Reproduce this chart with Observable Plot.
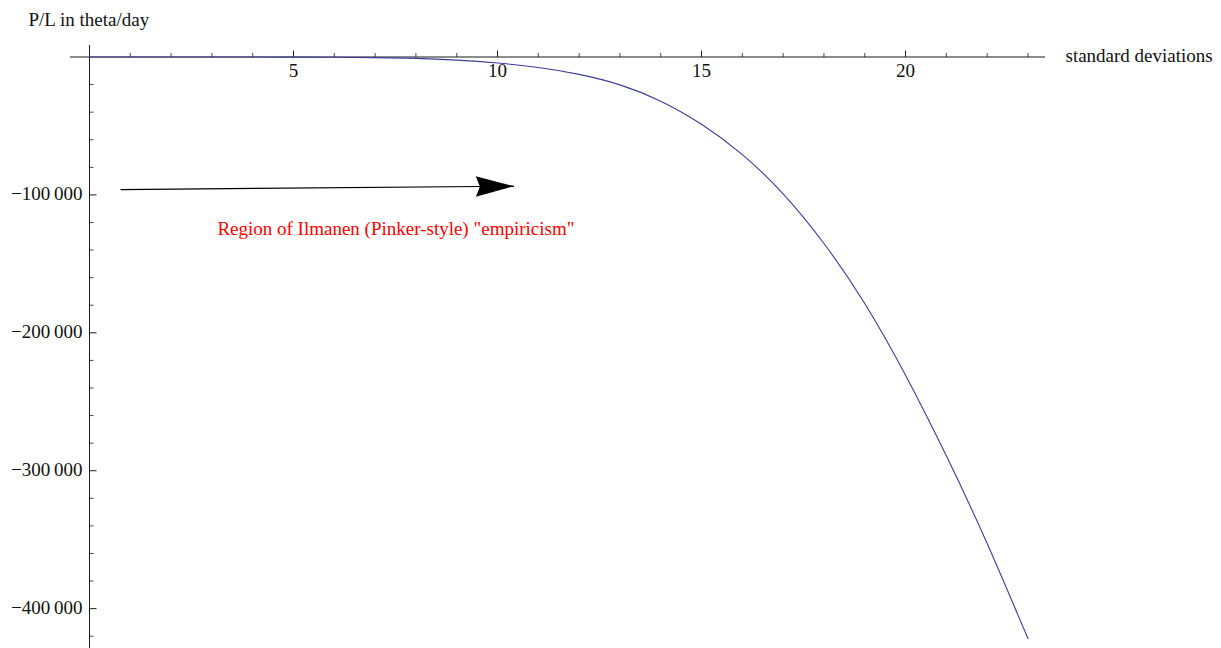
<!DOCTYPE html>
<html>
<head>
<meta charset="utf-8">
<script src="https://cdn.jsdelivr.net/npm/d3@7"></script>
<script src="https://cdn.jsdelivr.net/npm/@observablehq/plot@0.6"></script>
<style>
  html, body { margin: 0; padding: 0; background: #fff; }
  #chart svg { display: block; }
</style>
</head>
<body>
<div id="chart"></div>
<script>
// ---- data ----
const sigma = [0, 1, 2, 3, 4, 5, 6, 7, 8, 9, 10, 11, 12, 13, 14, 15, 16, 17, 18, 19, 20, 21, 22, 23];
const pl = [0, 0, 0, -10, -30, -80, -180, -420, -1000, -2300, -4400, -7600, -12600, -20200, -32000,
            -48800, -70800, -99200, -135200, -178700, -230700, -289200, -352700, -421700];

const xMajorTicks = [5, 10, 15, 20];
const xMinorTicks = [1, 2, 3, 4, 6, 7, 8, 9, 11, 12, 13, 14, 16, 17, 18, 19, 21, 22, 23];
const yMajorTicks = [-100000, -200000, -300000, -400000];
const yMinorTicks = [-20000, -40000, -60000, -80000, -120000, -140000, -160000, -180000,
                     -220000, -240000, -260000, -280000, -320000, -340000, -360000, -380000, -420000];

const arrowX = [0.76, 10.40];
const arrowY = [-96100, -93700];
const annotationText = ["Region of Ilmanen (Pinker-style) \"empiricism\""];
const annotationX = [7.51];
const annotationY = [-124400];
const yTitle = "P/L in theta/day";
const xTitle = "standard deviations";

// ---- helpers ----
const curveData = sigma.map((s, i) => ({s, v: pl[i]}));
const arrowData = [{x1: arrowX[0], y1: arrowY[0], x2: arrowX[1], y2: arrowY[1]}];
const fmtY = d => "\u2212" + d3.format(",")(-d).replace(/,/g, "\u2009");

const tickUp = len => ({draw(ctx) { ctx.moveTo(0, 0); ctx.lineTo(0, -len); }});
const tickRight = len => ({draw(ctx) { ctx.moveTo(0, 0); ctx.lineTo(len, 0); }});
const arrowHead = {draw(ctx) {
  ctx.moveTo(0, 0);
  ctx.lineTo(-38, -10.3);
  ctx.lineTo(-34, 0);
  ctx.lineTo(-38, 10.3);
  ctx.closePath();
}};

const serif = "'Liberation Serif', 'Times New Roman', Times, serif";
const axisColor = "#1a1a1a";

const chart = Plot.plot({
  width: 1221,
  height: 648,
  marginLeft: 89,
  marginRight: 176,
  marginTop: 56.5,
  marginBottom: 0,
  x: {domain: [0, 23.43], axis: null},
  y: {domain: [-428900, 0], axis: null},
  style: {background: "#fff", overflow: "visible"},
  marks: [
    // axis lines
    Plot.ruleY([0], {stroke: axisColor, strokeWidth: 1, insetLeft: -19}),
    Plot.ruleX([0], {stroke: axisColor, strokeWidth: 1, insetTop: -11.5}),
    // x ticks (pointing up)
    Plot.dot(xMajorTicks, {x: d => d, y: 0, symbol: tickUp(6.5), stroke: axisColor, fill: "none", strokeWidth: 1}),
    Plot.dot(xMinorTicks, {x: d => d, y: 0, symbol: tickUp(4), stroke: axisColor, fill: "none", strokeWidth: 0.8}),
    // y ticks (pointing right)
    Plot.dot(yMajorTicks, {x: 0, y: d => d, symbol: tickRight(7), stroke: axisColor, fill: "none", strokeWidth: 1}),
    Plot.dot(yMinorTicks, {x: 0, y: d => d, symbol: tickRight(4), stroke: axisColor, fill: "none", strokeWidth: 0.8}),
    // tick labels
    Plot.text(xMajorTicks, {x: d => d, y: 0, text: d => String(d), dy: 20, lineAnchor: "bottom",
      fontFamily: serif, fontSize: 19, fill: "#111"}),
    Plot.text(yMajorTicks, {x: 0, y: d => d, text: fmtY, textAnchor: "end", dx: -7, dy: 5, lineAnchor: "bottom",
      fontFamily: serif, fontSize: 19, fill: "#111"}),
    // axis titles
    Plot.text([yTitle], {frameAnchor: "top-left", text: d => d, textAnchor: "start", lineAnchor: "bottom",
      dx: -61, dy: -30.8, fontFamily: serif, fontSize: 19, fill: "#111"}),
    Plot.text([xTitle], {frameAnchor: "top-right", text: d => d, textAnchor: "start", lineAnchor: "bottom",
      dx: 20, dy: 5.2, fontFamily: serif, fontSize: 19, fill: "#111"}),
    // curve
    Plot.line(curveData, {x: "s", y: "v", stroke: "#3d3d99", strokeWidth: 1.1, curve: "natural"}),
    // annotation arrow
    Plot.link(arrowData, {x1: "x1", y1: "y1", x2: "x2", y2: "y2", stroke: "#000", strokeWidth: 1.2}),
    Plot.dot(arrowData, {x: "x2", y: "y2", symbol: arrowHead, fill: "#000", stroke: "none", rotate: -0.5}),
    Plot.text(annotationText, {x: (d, i) => annotationX[i], y: (d, i) => annotationY[i], text: d => d,
      fill: "#ff0000", fontFamily: serif, fontSize: 19})
  ]
});

document.getElementById("chart").appendChild(chart);
</script>
</body>
</html>
